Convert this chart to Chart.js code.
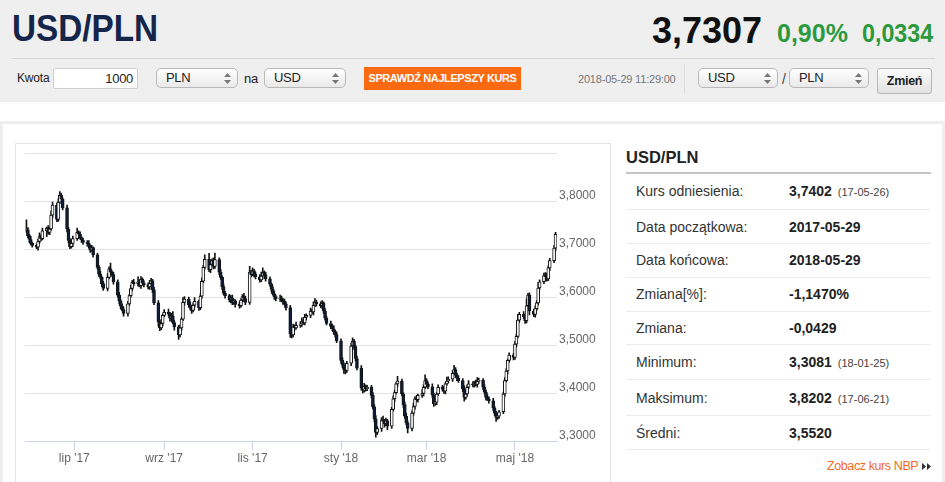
<!DOCTYPE html>
<html lang="pl">
<head>
  <meta charset="UTF-8">
  <title>USD/PLN</title>
  <script src="https://cdn.jsdelivr.net/npm/chart.js"></script>
  <style>
    body { margin: 0; width: 945px; height: 482px; overflow: hidden; background: #fff; font-family: "Liberation Sans", Arial, sans-serif; position: relative; }
    .a { position: absolute; white-space: nowrap; }
    .sel { position: absolute; height: 20px; border: 1px solid #b9b9b9; border-radius: 5px; background: linear-gradient(#ffffff, #e9e9e9); box-sizing: border-box; font-size: 13px; line-height: 18px; padding-left: 9px; color: #222; letter-spacing: -0.3px; }
    .sel svg { position: absolute; right: 6px; top: 4px; }
    .row { position: absolute; left: 626px; width: 305px; height: 1px; background: #ebebeb; }
    .lbl { position: absolute; left: 636px; font-size: 14px; line-height: 14px; color: #333; }
    .val { position: absolute; left: 789px; font-size: 14px; line-height: 14px; color: #222; font-weight: bold; }
    .val small { font-weight: normal; font-size: 11px; color: #444; margin-left: 6px; }
  </style>
</head>
<body>
  <!-- header band -->
  <div class="a" style="left:0;top:0;width:945px;height:102px;background:#efefef"></div>
  <div class="a" style="left:12px;top:10px;font-size:37px;line-height:37px;font-weight:bold;color:#16264a;transform:scaleX(.9);transform-origin:left">USD/PLN</div>
  <div class="a" style="left:652px;top:13px;font-size:36px;line-height:36px;font-weight:bold;color:#111">3,7307</div>
  <div class="a" style="left:777px;top:21px;font-size:25px;line-height:25px;font-weight:bold;color:#2b9a3d">0,90%</div>
  <div class="a" style="left:862px;top:21px;font-size:25px;line-height:25px;font-weight:bold;color:#2b9a3d;transform:scaleX(.93);transform-origin:left">0,0334</div>
  <div class="a" style="left:12px;top:58px;width:923px;height:1px;background:#d6d6d6"></div>

  <!-- control row -->
  <div class="a" style="left:17px;top:72px;font-size:12px;line-height:13px;color:#222;letter-spacing:-0.2px">Kwota</div>
  <div class="a" style="left:53px;top:68px;width:85px;height:21px;box-sizing:border-box;border:1px solid #cfcfcf;border-radius:2px;background:#fff;text-align:right;padding-right:4px;font-size:13px;line-height:19px;color:#222;letter-spacing:-0.3px">1000</div>
  <div class="sel" style="left:156px;top:68px;width:82px">PLN<svg width="7" height="11"><path d="M3.5 0L7 4H0z M3.5 11L7 7H0z" fill="#777"/></svg></div>
  <div class="a" style="left:244px;top:72px;font-size:13px;line-height:13px;color:#222;letter-spacing:-0.3px">na</div>
  <div class="sel" style="left:264px;top:68px;width:82px">USD<svg width="7" height="11"><path d="M3.5 0L7 4H0z M3.5 11L7 7H0z" fill="#777"/></svg></div>
  <div class="a" style="left:364px;top:67px;width:157px;height:23px;background:#fb6a10;color:#fff;font-size:11px;line-height:23px;font-weight:bold;text-align:center;letter-spacing:-0.4px">SPRAWDŹ NAJLEPSZY KURS</div>
  <div class="a" style="left:578px;top:73px;font-size:11px;line-height:12px;color:#777;letter-spacing:-0.2px">2018-05-29 11:29:00</div>
  <div class="a" style="left:684px;top:64px;width:1px;height:30px;background:#dcdcdc"></div>
  <div class="sel" style="left:698px;top:68px;width:80px">USD<svg width="7" height="11"><path d="M3.5 0L7 4H0z M3.5 11L7 7H0z" fill="#777"/></svg></div>
  <div class="a" style="left:782px;top:72px;font-size:14px;line-height:14px;color:#444">/</div>
  <div class="sel" style="left:789px;top:68px;width:80px">PLN<svg width="7" height="11"><path d="M3.5 0L7 4H0z M3.5 11L7 7H0z" fill="#777"/></svg></div>
  <div class="a" style="left:877px;top:68px;width:55px;height:26px;box-sizing:border-box;border:1px solid #b8b8b8;border-radius:3px;background:linear-gradient(#fbfbfb,#e2e2e2);text-align:center;font-size:12.5px;line-height:24px;font-weight:bold;color:#222;letter-spacing:-0.3px">Zmień</div>

  <!-- content panel -->
  <div class="a" style="left:0;top:121px;width:945px;height:3px;background:#eeeeee"></div>
  <div class="a" style="left:0;top:121px;width:3px;height:361px;background:#eeeeee"></div>
  <div class="a" style="left:942px;top:121px;width:3px;height:361px;background:#eeeeee"></div>
  <div class="a" style="left:15px;top:143px;width:596px;height:360px;box-sizing:border-box;border:1px solid #e6e6e6"></div>
  <canvas id="chart" class="a" width="593" height="326" style="left:16px;top:144px"></canvas>

  <!-- side table -->
  <div class="a" style="left:626px;top:149px;font-size:16.5px;line-height:16px;font-weight:bold;color:#222">USD/PLN</div>
  <div class="a" style="left:626px;top:172px;width:305px;height:2px;background:#c4c4c4"></div>
  <div class="lbl" style="top:184px">Kurs odniesienia:</div><div class="val" style="top:184px">3,7402<small>(17-05-26)</small></div>
  <div class="row" style="top:209px"></div>
  <div class="lbl" style="top:220px">Data początkowa:</div><div class="val" style="top:220px">2017-05-29</div>
  <div class="row" style="top:243px"></div>
  <div class="lbl" style="top:253px">Data końcowa:</div><div class="val" style="top:253px">2018-05-29</div>
  <div class="row" style="top:277px"></div>
  <div class="lbl" style="top:287px">Zmiana[%]:</div><div class="val" style="top:287px">-1,1470%</div>
  <div class="row" style="top:311px"></div>
  <div class="lbl" style="top:321px">Zmiana:</div><div class="val" style="top:321px">-0,0429</div>
  <div class="row" style="top:344px"></div>
  <div class="lbl" style="top:355px">Minimum:</div><div class="val" style="top:355px">3,3081<small>(18-01-25)</small></div>
  <div class="row" style="top:379px"></div>
  <div class="lbl" style="top:391px">Maksimum:</div><div class="val" style="top:391px">3,8202<small>(17-06-21)</small></div>
  <div class="row" style="top:415px"></div>
  <div class="lbl" style="top:426px">Średni:</div><div class="val" style="top:426px">3,5520</div>
  <div class="row" style="top:449px"></div>
  <div class="a" style="left:827px;top:459px;font-size:12.5px;line-height:14px;color:#f26b1d;letter-spacing:-0.4px">Zobacz kurs NBP</div>
  <svg class="a" style="left:922px;top:463px" width="10" height="7"><path d="M0 0L4 3.5L0 7z M5 0L9 3.5L5 7z" fill="#333"/></svg>

  <script>
    // reference close (17-05-26), first candle opens here
    const refClose = 3.7402;

    // daily closes, one line per week (Mon..Fri), from 2017-05-29 to 2018-05-29
    const closes = [
      3.741, 3.728, 3.720, 3.712, 3.708,
      3.704, 3.716, 3.726, 3.722, 3.738,
      3.744, 3.735, 3.742, 3.771, 3.792,
      3.762, 3.798, 3.812, 3.804, 3.786,
      3.742, 3.718, 3.705, 3.712, 3.722,
      3.735, 3.731, 3.724, 3.719, 3.714,
      3.712, 3.706, 3.698, 3.703, 3.688,
      3.662, 3.648, 3.641, 3.628, 3.618,
      3.641, 3.659, 3.652, 3.647, 3.632,
      3.604, 3.592, 3.581, 3.574, 3.566,
      3.586, 3.603, 3.618, 3.631, 3.628,
      3.632, 3.624, 3.637, 3.629, 3.626,
      3.621, 3.628, 3.634, 3.615, 3.588,
      3.548, 3.536, 3.545, 3.562, 3.568,
      3.565, 3.556, 3.561, 3.547, 3.538,
      3.521, 3.536, 3.554, 3.589, 3.596,
      3.584, 3.577, 3.572, 3.583, 3.591,
      3.578, 3.602, 3.633, 3.662, 3.679,
      3.657, 3.668, 3.676, 3.664, 3.678,
      3.652, 3.641, 3.622, 3.608, 3.603,
      3.594, 3.598, 3.589, 3.592, 3.585,
      3.582, 3.594, 3.601, 3.597, 3.589,
      3.652, 3.647, 3.655, 3.648, 3.642,
      3.636, 3.644, 3.651, 3.647, 3.638,
      3.627, 3.616, 3.607, 3.601, 3.596,
      3.598, 3.594, 3.591, 3.586, 3.578,
      3.524, 3.521, 3.538, 3.536, 3.541,
      3.544, 3.549, 3.546, 3.558, 3.562,
      3.571, 3.569, 3.583, 3.589, 3.586,
      3.582, 3.587, 3.571, 3.556, 3.545,
      3.539, 3.534, 3.528, 3.522, 3.509,
      3.468, 3.458, 3.449, 3.447, 3.462,
      3.498, 3.508, 3.497, 3.472, 3.452,
      3.411, 3.406, 3.414, 3.409, 3.412,
      3.395, 3.371, 3.346, 3.318, 3.326,
      3.344, 3.341, 3.336, 3.342, 3.331,
      3.366, 3.388, 3.401, 3.419, 3.425,
      3.398, 3.376, 3.352, 3.338, 3.326,
      3.358, 3.372, 3.388, 3.386, 3.395,
      3.399, 3.412, 3.426, 3.418, 3.413,
      3.396, 3.378, 3.381, 3.398, 3.412,
      3.408, 3.404, 3.419, 3.425, 3.429,
      3.441, 3.449, 3.438, 3.431, 3.426,
      3.409, 3.391, 3.398, 3.412, 3.419,
      3.417, 3.421, 3.418, 3.424, 3.427,
      3.412, 3.402, 3.391, 3.388, 3.384,
      3.369, 3.358, 3.349, 3.352, 3.361,
      3.398, 3.426, 3.446, 3.468, 3.479,
      3.474, 3.502, 3.518, 3.552, 3.564,
      3.559, 3.551, 3.582, 3.604, 3.571,
      3.564, 3.576, 3.588, 3.619, 3.632,
      3.645, 3.642, 3.638, 3.661, 3.676,
      3.702, 3.731
    ];

    // shadow lengths above / below the body, in 0.001 PLN
    const wickUp = [
      20, 4, 3, 6, 2,   3, 5, 8, 4, 6,   2, 5, 3, 9, 6,   4, 7, 8, 5, 3,
      6, 3, 4, 7, 5,    9, 3, 5, 2, 4,   4, 6, 3, 5, 2,   3, 4, 6, 2, 5,
      8, 4, 12, 3, 5,   4, 6, 3, 5, 4,   5, 3, 7, 4, 6,   10, 4, 6, 3, 5,
      4, 7, 5, 3, 6,    5, 4, 8, 3, 6,   7, 3, 5, 9, 4,   3, 6, 4, 10, 5,
      4, 6, 3, 5, 8,    3, 5, 7, 4, 9,   12, 5, 4, 6, 14, 4, 6, 3, 5, 4,
      3, 5, 6, 4, 3,    5, 3, 4, 7, 5,   12, 4, 6, 3, 4,  5, 8, 10, 4, 5,
      4, 3, 6, 5, 3,    6, 4, 3, 5, 4,   5, 3, 6, 4, 7,   5, 8, 4, 6, 3,
      6, 4, 7, 8, 5,    4, 6, 3, 5, 4,   5, 4, 6, 3, 5,   4, 6, 5, 3, 4,
      6, 7, 4, 3, 5,    5, 4, 6, 3, 4,   4, 6, 5, 7, 4,   5, 8, 4, 6, 3,
      4, 6, 5, 3, 10,   4, 3, 5, 6, 4,   5, 7, 4, 6, 3,   8, 5, 12, 4, 5,
      6, 4, 7, 3, 5,    4, 6, 3, 8, 5,   6, 9, 4, 3, 5,   4, 6, 3, 5, 7,
      5, 4, 6, 8, 4,    3, 5, 4, 6, 4,   5, 3, 4, 6, 3,   4, 6, 5, 3, 5,
      4, 6, 5, 12, 4,   6, 5, 14, 4, 5,  4, 6, 5, 12, 4,  5, 6, 8, 4, 5,
      6, 4
    ];
    const wickDown = [
      5, 4, 6, 3, 4,    3, 6, 4, 5, 3,   12, 4, 5, 3, 6,  5, 4, 3, 6, 4,
      6, 5, 4, 3, 7,    4, 6, 3, 5, 4,   6, 4, 5, 3, 5,   4, 5, 3, 6, 4,
      5, 3, 6, 4, 5,    4, 6, 5, 3, 6,   6, 4, 3, 5, 4,   5, 3, 6, 4, 5,
      4, 5, 3, 6, 4,    8, 6, 4, 5, 3,   4, 6, 5, 3, 7,   9, 4, 5, 3, 6,
      5, 4, 6, 3, 4,    6, 4, 5, 3, 4,   4, 6, 3, 5, 4,   5, 4, 6, 3, 5,
      4, 6, 5, 4, 6,    5, 3, 4, 6, 5,   4, 5, 3, 6, 4,   5, 4, 6, 3, 5,
      4, 5, 3, 6, 4,    5, 4, 6, 3, 5,   8, 6, 4, 5, 3,   4, 5, 3, 4, 6,
      5, 4, 6, 3, 5,    4, 6, 5, 4, 3,   5, 4, 6, 5, 4,   6, 5, 8, 7, 4,
      5, 4, 6, 5, 4,    5, 6, 4, 5, 4,   5, 4, 6, 10, 5,  6, 5, 7, 4, 8,
      5, 4, 6, 3, 5,    4, 6, 5, 4, 9,   5, 4, 6, 3, 5,   4, 5, 3, 6, 4,
      5, 6, 4, 5, 3,    4, 5, 6, 3, 4,   5, 4, 6, 5, 4,   6, 8, 4, 5, 3,
      4, 5, 3, 6, 4,    5, 4, 6, 3, 5,   6, 5, 8, 4, 5,   4, 5, 3, 6, 4,
      5, 4, 6, 3, 5,    4, 6, 5, 3, 8,   5, 6, 4, 5, 3,   4, 8, 5, 4, 6,
      4, 5
    ];

    // x axis: calendar days since 2017-05-29, ticks on month starts
    const monthTickDays = [33, 95, 156, 217, 276, 337];
    const monthTickLabels = ["lip '17", "wrz '17", "lis '17", "sty '18", "mar '18", "maj '18"];

    const yTickValues = [3.3, 3.4, 3.5, 3.6, 3.7, 3.8, 3.9];
    const yTickLabels = ['3,3000', '3,4000', '3,5000', '3,6000', '3,7000', '3,8000', ''];

    // trading day i -> calendar day (weekdays only)
    const dayOf = i => 7 * Math.floor(i / 5) + (i % 5);

    const bodies = [], wicks = [], fills = [];
    closes.forEach((c, i) => {
      const o = i === 0 ? refClose : closes[i - 1];
      const hi = Math.max(o, c) + wickUp[i] / 1000;
      const lo = Math.min(o, c) - wickDown[i] / 1000;
      bodies.push({ x: dayOf(i), y: [o, c] });
      wicks.push({ x: dayOf(i), y: [lo, hi] });
      fills.push(c >= o ? '#ffffff' : '#0d1d3b');
    });

    const font = { family: '"Liberation Sans", Arial, sans-serif', size: 12 };

    new Chart(document.getElementById('chart'), {
      type: 'bar',
      data: {
        datasets: [
          { data: bodies, backgroundColor: fills, borderColor: '#141414', borderWidth: 1, borderSkipped: false, barThickness: 3, grouped: false },
          { data: wicks, backgroundColor: '#141414', borderWidth: 0, barThickness: 1, grouped: false }
        ]
      },
      options: {
        responsive: false,
        animation: false,
        layout: { padding: { left: 9, top: 9, right: 0, bottom: 0 } },
        plugins: { legend: { display: false }, tooltip: { enabled: false } },
        scales: {
          x: {
            type: 'linear', min: -1, max: 366, offset: false,
            afterBuildTicks: s => { s.ticks = monthTickDays.map(v => ({ value: v })); },
            afterFit: s => { s.height = 29; },
            ticks: { autoSkip: false, maxRotation: 0, color: '#666', font, padding: 1,
              callback: (v, i) => monthTickLabels[i] },
            grid: { drawOnChartArea: false, tickLength: 9, color: '#ccd6eb', offset: false },
            border: { color: '#ccd6eb' }
          },
          y: {
            position: 'right', min: 3.3, max: 3.9,
            afterBuildTicks: s => { s.ticks = yTickValues.map(v => ({ value: v })); },
            afterFit: s => { s.width = 52; },
            ticks: { color: '#666', font, padding: 2, labelOffset: -5,
              callback: (v, i) => yTickLabels[i] },
            grid: { color: '#e3e3e3', drawTicks: false },
            border: { display: false }
          }
        }
      }
    });
  </script>
</body>
</html>
